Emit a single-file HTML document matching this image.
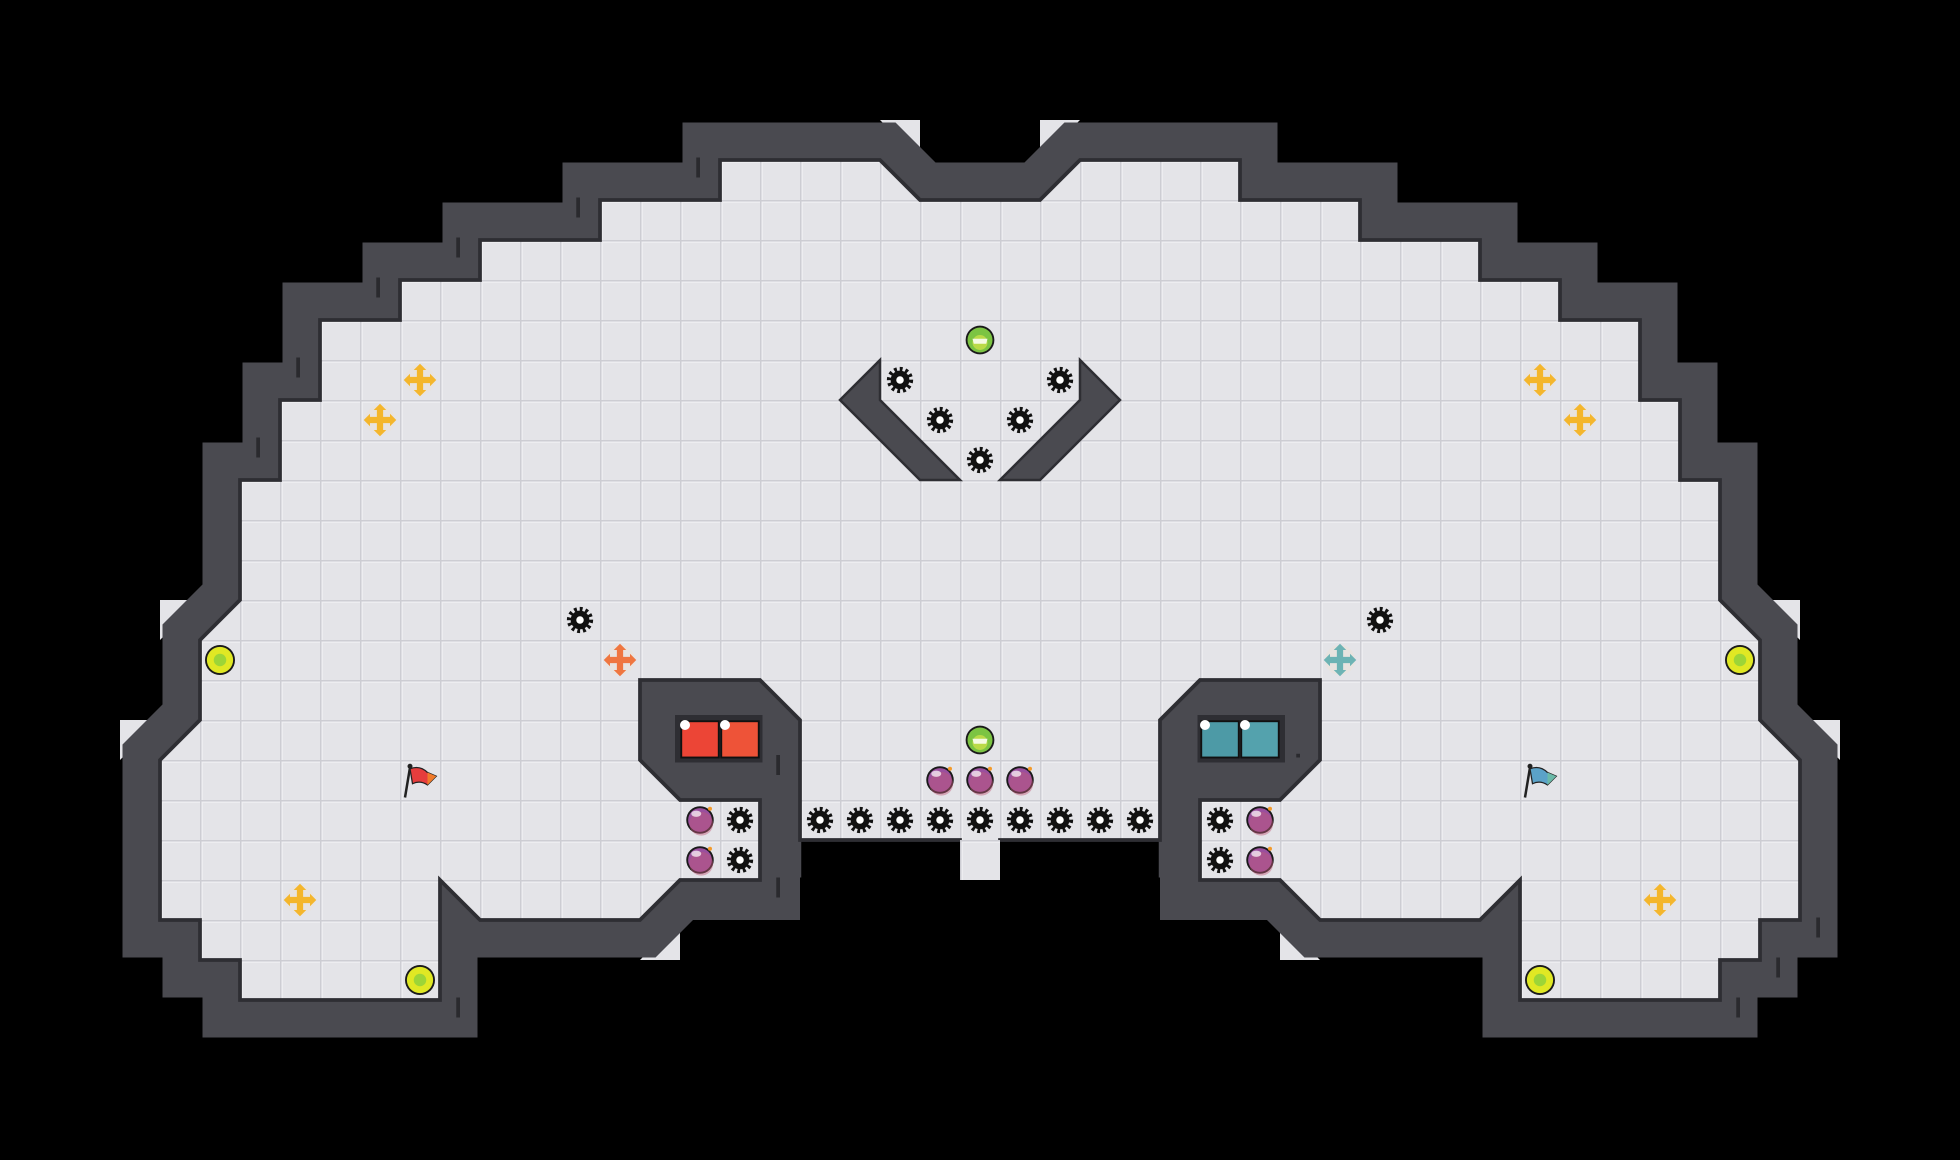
<!DOCTYPE html>
<html><head><meta charset="utf-8"><style>html,body{margin:0;padding:0;background:#000}svg{display:block}</style></head>
<body>
<svg width="1960" height="1160" viewBox="0 0 1568 928" xmlns="http://www.w3.org/2000/svg">
<defs>
<pattern id="tile" x="0" y="0" width="32" height="32" patternUnits="userSpaceOnUse">
<rect width="32" height="32" fill="#e4e4e8"/>
<rect x="0" y="0" width="32" height="1.2" fill="#cdcdd3"/>
<rect x="0" y="0" width="1.2" height="32" fill="#cdcdd3"/>
<rect x="1.2" y="1.2" width="30.8" height="1" fill="#f0f0f3"/>
<rect x="1.2" y="1.2" width="1" height="30.8" fill="#f0f0f3"/>
</pattern>
<g id="mine">
<circle r="8.5" fill="none" stroke="#111" stroke-width="4" stroke-dasharray="2.2 2.2"/>
<circle r="7.5" fill="#111"/>
<circle r="3" fill="#fff"/>
</g>
<g id="bomb">
<circle r="11" fill="#1a1a1a"/>
<circle r="9.5" fill="#9a4f9e"/>
<circle r="9.5" fill="#c05a7a" opacity="0.45" transform="translate(1,3)"/>
<ellipse cx="-3" cy="-5" rx="4" ry="2.5" fill="#fff" opacity="0.7"/>
<circle cx="8" cy="-9" r="1.6" fill="#f39a2b"/>
</g>
<g id="gem">
<circle r="11.5" fill="#1a1a1a"/>
<circle r="10" fill="#7cc443"/>
<circle r="6" cy="2" fill="#c9e04a" opacity="0.8"/>
<path d="M-6 -1 L6 -1 L5 3 L-5 3 Z" fill="#fff" opacity="0.85"/>
</g>
<g id="target">
<circle r="12" fill="#1a1a1a"/>
<circle r="10.5" fill="#e0e824"/>
<circle r="5" fill="#8cd03c" opacity="0.8"/>
</g>
<g id="cross">
<circle r="12" fill="#e9e3dc" opacity="0.7"/>
<rect x="-10" y="-2.5" width="20" height="5"/>
<rect x="-2.5" y="-10" width="5" height="20"/>
<path d="M-13 0 L-8 -5 L-8 5Z M13 0 L8 -5 L8 5Z M0 -13 L-5 -8 L5 -8Z M0 13 L-5 8 L5 8Z"/>
</g>
</defs>
<rect width="1568" height="928" fill="#000"/>
<g fill="#e4e4e8">
<polygon points="704,96 736,96 736,128"/>
<polygon points="832,96 864,96 832,128"/>
<polygon points="128,480 160,480 128,512"/>
<polygon points="96,576 128,576 96,608"/>
<polygon points="1408,480 1440,480 1440,512"/>
<polygon points="1440,576 1472,576 1472,608"/>
<polygon points="512,768 544,736 544,768"/>
<polygon points="1024,736 1056,768 1024,768"/>
</g>
<polygon points="512,544 608,544 640,576 640,736 512,736" fill="#4a4a50"/>
<polygon points="1056,544 960,544 928,576 928,736 1056,736" fill="#4a4a50"/>
<polygon points="576,128 704,128 736,160 832,160 864,128 992,128 992,160 1088,160 1088,192 1184,192 1184,224 1248,224 1248,256 1312,256 1312,320 1344,320 1344,384 1376,384 1376,480 1408,512 1408,576 1440,608 1440,736 1408,736 1408,768 1376,768 1376,800 1216,800 1216,704 1184,736 1056,736 1024,704 960,704 960,640 1024,640 1056,608 1056,544 960,544 928,576 928,672 800,672 800,704 768,704 768,672 640,672 640,576 608,544 512,544 512,608 544,640 608,640 608,704 544,704 512,736 384,736 352,704 352,800 192,800 192,768 160,768 160,736 128,736 128,608 160,576 160,512 192,480 192,384 224,384 224,320 256,320 256,256 320,256 320,224 384,224 384,192 480,192 480,160 576,160" fill="#4a4a50" stroke="#4a4a50" stroke-width="60" stroke-linejoin="miter" stroke-miterlimit="10"/>
<polygon points="576,128 704,128 736,160 832,160 864,128 992,128 992,160 1088,160 1088,192 1184,192 1184,224 1248,224 1248,256 1312,256 1312,320 1344,320 1344,384 1376,384 1376,480 1408,512 1408,576 1440,608 1440,736 1408,736 1408,768 1376,768 1376,800 1216,800 1216,704 1184,736 1056,736 1024,704 960,704 960,640 1024,640 1056,608 1056,544 960,544 928,576 928,672 800,672 800,704 768,704 768,672 640,672 640,576 608,544 512,544 512,608 544,640 608,640 608,704 544,704 512,736 384,736 352,704 352,800 192,800 192,768 160,768 160,736 128,736 128,608 160,576 160,512 192,480 192,384 224,384 224,320 256,320 256,256 320,256 320,224 384,224 384,192 480,192 480,160 576,160" fill="url(#tile)" stroke="#2e2e33" stroke-width="3"/>
<rect x="641" y="673.5" width="286" height="260" fill="#000"/>
<rect x="768" y="672" width="32" height="32" fill="url(#tile)"/>
<polygon points="672,320 704,288 704,320 768,384 736,384" fill="#4a4a50" stroke="#2e2e33" stroke-width="2"/>
<polygon points="896,320 864,288 864,320 800,384 832,384" fill="#4a4a50" stroke="#2e2e33" stroke-width="2"/>
<g fill="#2a2a2e">
<rect x="557" y="126" width="3" height="16"/><rect x="461" y="158" width="3" height="16"/>
<rect x="365" y="190" width="3" height="16"/><rect x="301" y="222" width="3" height="16"/>
<rect x="237" y="286" width="3" height="16"/><rect x="205" y="350" width="3" height="16"/>
<rect x="621" y="604" width="3" height="16"/><rect x="621" y="702" width="3" height="16"/>
<rect x="365" y="798" width="3" height="16"/><rect x="1453" y="734" width="3" height="16"/>
<rect x="1421" y="766" width="3" height="16"/><rect x="1389" y="798" width="3" height="16"/>
<rect x="1037" y="603" width="3" height="3"/>
</g>
<rect x="540" y="572" width="70" height="38" fill="#2e2e33"/>
<rect x="958" y="572" width="70" height="38" fill="#2e2e33"/>
<g stroke="#111" stroke-width="1.5">
<rect x="545" y="577" width="30" height="29" fill="#ec4536"/>
<rect x="577" y="577" width="30" height="29" fill="#ee5338"/>
<rect x="961" y="577" width="30" height="29" fill="#4d9aa6"/>
<rect x="993" y="577" width="30" height="29" fill="#54a2ad"/>
</g>
<g fill="#fff"><circle cx="548" cy="580" r="4"/><circle cx="580" cy="580" r="4"/><circle cx="964" cy="580" r="4"/><circle cx="996" cy="580" r="4"/></g>
<g>
<use href="#mine" x="720" y="304"/><use href="#mine" x="848" y="304"/>
<use href="#mine" x="752" y="336"/><use href="#mine" x="816" y="336"/>
<use href="#mine" x="784" y="368"/>
<use href="#mine" x="464" y="496"/><use href="#mine" x="1104" y="496"/>
<use href="#mine" x="656" y="656"/><use href="#mine" x="688" y="656"/><use href="#mine" x="720" y="656"/>
<use href="#mine" x="752" y="656"/><use href="#mine" x="784" y="656"/><use href="#mine" x="816" y="656"/>
<use href="#mine" x="848" y="656"/><use href="#mine" x="880" y="656"/><use href="#mine" x="912" y="656"/>
<use href="#mine" x="592" y="656"/><use href="#mine" x="592" y="688"/>
<use href="#mine" x="976" y="656"/><use href="#mine" x="976" y="688"/>
</g>
<g>
<use href="#bomb" x="752" y="624"/><use href="#bomb" x="784" y="624"/><use href="#bomb" x="816" y="624"/>
<use href="#bomb" x="560" y="656"/><use href="#bomb" x="560" y="688"/>
<use href="#bomb" x="1008" y="656"/><use href="#bomb" x="1008" y="688"/>
</g>
<use href="#gem" x="784" y="272"/><use href="#gem" x="784" y="592"/>
<use href="#target" x="176" y="528"/><use href="#target" x="1392" y="528"/>
<use href="#target" x="336" y="784"/><use href="#target" x="1232" y="784"/>
<g fill="#f4b62c">
<use href="#cross" x="336" y="304"/><use href="#cross" x="304" y="336"/>
<use href="#cross" x="1232" y="304"/><use href="#cross" x="1264" y="336"/>
<use href="#cross" x="240" y="720"/><use href="#cross" x="1328" y="720"/>
</g>
<use href="#cross" x="496" y="528" fill="#ef7640"/>
<use href="#cross" x="1072" y="528" fill="#6db3b4"/>
<g transform="translate(336,624)">
<line x1="-12" y1="14" x2="-8" y2="-10" stroke="#222" stroke-width="2"/>
<circle cx="-8" cy="-11" r="2" fill="#222"/>
<path d="M-8 -9 Q0 -12 6 -6 L13 -3 L6 4 Q0 0 -6 3 Z" fill="#e63d3d" stroke="#222" stroke-width="1"/>
<path d="M6 -6 L13 -3 L6 4 Z" fill="#f07a2a"/>
</g>
<g transform="translate(1232,624)">
<line x1="-12" y1="14" x2="-8" y2="-10" stroke="#222" stroke-width="2"/>
<circle cx="-8" cy="-11" r="2" fill="#222"/>
<path d="M-8 -9 Q0 -12 6 -6 L13 -3 L6 4 Q0 0 -6 3 Z" fill="#5ba2c8" stroke="#222" stroke-width="1"/>
<path d="M6 -6 L13 -3 L6 4 Z" fill="#6ab9a8"/>
</g>
</svg>
</body></html>
